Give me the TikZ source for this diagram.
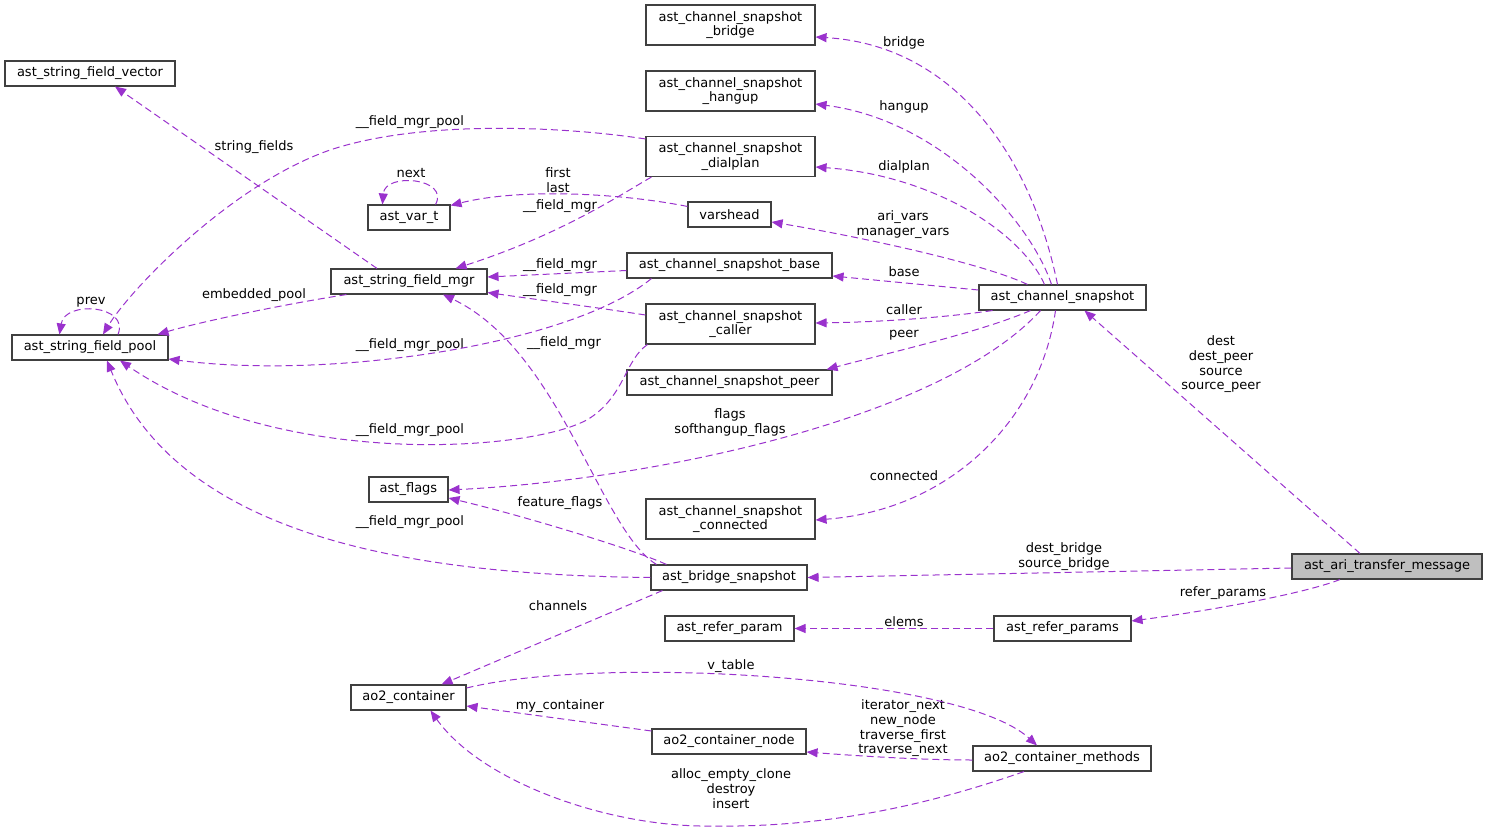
\documentclass[tikz,border=0pt]{standalone}
\usepackage{fontspec}
\setmainfont{DejaVu Sans}
\usetikzlibrary{arrows.meta}
\definecolor{edgec}{HTML}{9A32CD}
\definecolor{boxc}{HTML}{404040}
\definecolor{hlc}{HTML}{BFBFBF}
\tikzset{
 cls/.style={draw=boxc, line width=1.1pt, fill=white, minimum height=25pt, inner sep=0pt, align=center, font=\fontsize{13}{14.7}\selectfont},
 cls2/.style={cls, minimum height=40pt},
 lbl/.style={inner sep=0pt, align=center, yshift=-1.5pt, font=\fontsize{13}{14.7}\selectfont},
 rel/.style={draw=edgec, line width=1pt, dash pattern=on 7pt off 4pt, -{Triangle[length=11pt,width=9pt]}}
}
\begin{document}
\begin{tikzpicture}[x=1pt,y=-1pt]
\useasboundingbox (0,0) rectangle (1488,829);
% nodes
\node[cls, fill=hlc, minimum width=190pt] (tm) at (1387,566.5) {ast\_ari\_transfer\_message};
\node[cls, minimum width=167pt] (cs) at (1062.5,297.5) {ast\_channel\_snapshot};
\node[cls2, minimum width=169pt] (bridgeN) at (730.5,25) {ast\_channel\_snapshot\\\_bridge};
\node[cls2, minimum width=169pt] (hangup) at (730.5,91) {ast\_channel\_snapshot\\\_hangup};
\node[cls2, minimum width=169pt] (dialplan) at (730.5,156.5) {ast\_channel\_snapshot\\\_dialplan};
\node[cls, minimum width=83pt] (varshead) at (729.5,214.5) {varshead};
\node[cls, minimum width=205pt] (base) at (729.5,265.5) {ast\_channel\_snapshot\_base};
\node[cls2, minimum width=169pt] (caller) at (730.5,324) {ast\_channel\_snapshot\\\_caller};
\node[cls, minimum width=205pt] (peer) at (729.5,382.5) {ast\_channel\_snapshot\_peer};
\node[cls2, minimum width=169pt] (connected) at (730.5,519) {ast\_channel\_snapshot\\\_connected};
\node[cls, minimum width=156pt] (bs) at (729,577.5) {ast\_bridge\_snapshot};
\node[cls, minimum width=129pt] (rparam) at (729.5,628.5) {ast\_refer\_param};
\node[cls, minimum width=137pt] (rparams) at (1062.5,628.5) {ast\_refer\_params};
\node[cls, minimum width=154pt] (cnode) at (729,741.5) {ao2\_container\_node};
\node[cls, minimum width=178pt] (methods) at (1062,758.5) {ao2\_container\_methods};
\node[cls, minimum width=115pt] (cont) at (408.5,697.5) {ao2\_container};
\node[cls, minimum width=79pt] (flags) at (408.5,489.5) {ast\_flags};
\node[cls, minimum width=156pt] (mgr) at (409,281.5) {ast\_string\_field\_mgr};
\node[cls, minimum width=82pt] (vart) at (409,217.5) {ast\_var\_t};
\node[cls, minimum width=170pt] (vector) at (90,73.5) {ast\_string\_field\_vector};
\node[cls, minimum width=156pt] (pool) at (90,347.5) {ast\_string\_field\_pool};
% labels
\node[lbl] (l1) at (1221,363) {dest\\dest\_peer\\source\\source\_peer};
\node[lbl] (l2) at (1064,555) {dest\_bridge\\source\_bridge};
\node[lbl] (l3) at (1223,592) {refer\_params};
\node[lbl] (l4) at (904,620) {elems};
\node[lbl] (l5) at (904,41) {bridge};
\node[lbl] (l6) at (904,105) {hangup};
\node[lbl] (l7) at (904,165) {dialplan};
\node[lbl] (l8) at (903,223) {ari\_vars\\manager\_vars};
\node[lbl] (l9) at (904,270) {base};
\node[lbl] (l10) at (904,308) {caller};
\node[lbl] (l11) at (904,334) {peer};
\node[lbl] (l12) at (730,421) {flags\\softhangup\_flags};
\node[lbl] (l13) at (904,474) {connected};
\node[lbl] (l14) at (410,121) {\_\_field\_mgr\_pool};
\node[lbl] (l15) at (254,146) {string\_fields};
\node[lbl] (l16) at (411,172) {next};
\node[lbl] (l17) at (558,179) {first\\last};
\node[lbl] (l18) at (560,205) {\_\_field\_mgr};
\node[lbl] (l19) at (560,264) {\_\_field\_mgr};
\node[lbl] (l20) at (560,289) {\_\_field\_mgr};
\node[lbl] (l21) at (254,294) {embedded\_pool};
\node[lbl] (l22) at (91,301) {prev};
\node[lbl] (l23) at (410,344) {\_\_field\_mgr\_pool};
\node[lbl] (l24) at (564,342) {\_\_field\_mgr};
\node[lbl] (l25) at (410,429) {\_\_field\_mgr\_pool};
\node[lbl] (l26) at (560,502) {feature\_flags};
\node[lbl] (l27) at (410,521) {\_\_field\_mgr\_pool};
\node[lbl] (l28) at (558,604) {channels};
\node[lbl] (l29) at (731,665) {v\_table};
\node[lbl] (l30) at (560,705) {my\_container};
\node[lbl] (l31) at (903,727) {iterator\_next\\new\_node\\traverse\_first\\traverse\_next};
\node[lbl] (l32) at (731,787) {alloc\_empty\_clone\\destroy\\insert};
% edges
\draw[rel] ([xshift=-27pt]tm.north) -- ([xshift=22pt]cs.south);
\draw[rel] ([yshift=-1.5pt]tm.west) -- (bs.east);
\draw[rel] ([xshift=-47pt]tm.south) .. controls (1300,595) and (1200,612) .. ([yshift=7.5pt]rparams.east);
\draw[rel] (rparams.west) -- (rparam.east);
\draw[rel] ([xshift=-5pt]cs.north) .. controls (1030,150) and (950,45) .. ([yshift=-12pt]bridgeN.east);
\draw[rel] ([xshift=-11pt]cs.north) .. controls (1030,220) and (940,120) .. ([yshift=-13pt]hangup.east);
\draw[rel] ([xshift=-18pt]cs.north) .. controls (1020,230) and (930,175) .. ([yshift=-10.5pt]dialplan.east);
\draw[rel] ([xshift=-35pt]cs.north) .. controls (980,262) and (850,235) .. ([yshift=-7.5pt]varshead.east);
\draw[rel] ([yshift=7.5pt]cs.west) -- ([yshift=-10.5pt]base.east);
\draw[rel] ([xshift=-70pt]cs.south) .. controls (940,318) and (880,322) .. ([yshift=1pt]caller.east);
\draw[rel] ([xshift=-32pt]cs.south) .. controls (980,332) and (900,350) .. ([xshift=-6pt]peer.north east);
\draw[rel] ([xshift=-22pt]cs.south) .. controls (940,420) and (650,480) .. ([yshift=-0.5pt]flags.east);
\draw[rel] ([xshift=-7pt]cs.south) .. controls (1040,420) and (950,510) .. ([yshift=-1pt]connected.east);
\draw[rel] ([xshift=12pt]bs.south west) -- ([xshift=-25pt]cont.north east);
\draw[rel] ([yshift=9.5pt]cont.east) .. controls (600,655) and (960,675) .. ([xshift=-25pt]methods.north);
\draw[rel] ([yshift=10.5pt]cnode.west) -- ([yshift=-8.5pt]cont.east);
\draw[rel] ([yshift=-1.5pt]methods.west) .. controls (920,760) and (860,756) .. ([yshift=-10.5pt]cnode.east);
\draw[rel] ([xshift=-38pt]methods.south) .. controls (900,815) and (800,828) .. (700,826) .. controls (600,824) and (480,780) .. ([xshift=22pt]cont.south);
\draw[rel] ([xshift=16pt]bs.north west) .. controls (630,548) and (520,515) .. ([yshift=-8.5pt]flags.east);
\draw[rel] ([xshift=6pt]bs.north west) .. controls (600,530) and (560,350) .. ([xshift=34pt]mgr.south);
\draw[rel] (bs.west) .. controls (420,575) and (180,540) .. ([xshift=17pt]pool.south);
\draw[rel] ([xshift=2pt]caller.south west) .. controls (625,360) and (625,395) .. (590,418) .. controls (537,452) and (280,470) .. ([xshift=30pt]pool.south);
\draw[rel] ([xshift=25pt]base.south west) .. controls (570,345) and (330,380) .. ([yshift=-11.5pt]pool.east);
\draw[rel] ([yshift=-3pt]dialplan.north west) .. controls (560,126) and (420,120) .. (330,150) .. controls (230,185) and (130,290) .. ([xshift=13pt]pool.north);
\draw[rel] ([xshift=-32pt]mgr.north) -- ([xshift=25pt]vector.south);
\draw[rel] ([xshift=16pt]mgr.south west) .. controls (280,305) and (200,322) .. ([xshift=-11pt]pool.north east);
\draw[rel] ([xshift=6pt]dialplan.south west) .. controls (620,195) and (560,235) .. ([xshift=-32pt]mgr.north east);
\draw[rel] ([yshift=-5pt]base.west) -- ([yshift=4.5pt]mgr.east);
\draw[rel] ([yshift=9pt]caller.west) .. controls (600,308) and (540,300) .. ([yshift=2pt]mgr.south east);
\draw[rel] ([yshift=-5pt]varshead.north west) .. controls (620,193) and (520,188) .. ([yshift=-1pt]vart.north east);
\draw[rel] ([xshift=-15pt]vart.north east) .. controls (450,178) and (385,172) .. ([xshift=15pt]vart.north west);
\draw[rel] ([xshift=28pt]pool.north) .. controls (130,305) and (65,300) .. ([xshift=48pt]pool.north west);
\end{tikzpicture}
\end{document}
